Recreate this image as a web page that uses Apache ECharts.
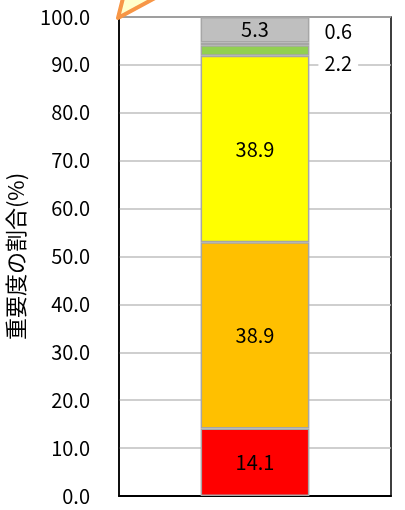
<!DOCTYPE html>
<html><head><meta charset="utf-8">
<script src="https://cdn.jsdelivr.net/npm/echarts@6/dist/echarts.min.js"></script>
<style>html,body{margin:0;padding:0;background:#fff;}#c{width:405px;height:510px;}</style>
</head><body><div id="c"></div>
<script>
const categories = [''];
const seriesNames = ['s1','s2','s3','s4','s5','s6'];
const seriesValues = [14.1, 38.9, 38.9, 2.2, 0.6, 5.3];
const seriesColors = ['#FF0000','#FFC000','#FFFF00','#92D050','#00B0F0','#BFBFBF'];
const yTicks = [0,10,20,30,40,50,60,70,80,90,100];
const yTitle = '重要度の割合(%)';
const FONT = '"Noto Sans CJK JP", sans-serif';

const chart = echarts.init(document.getElementById('c'));
const series = seriesValues.map((v, i) => {
  let label = {show: true, position: 'inside', color: '#000', fontSize: 20, fontFamily: FONT,
    formatter: p => p.value.toFixed(1)};
  if (i === 3) label = Object.assign({}, label, {position: 'right', distance: 9, offset: [0, 13],
    backgroundColor: '#fff', padding: [0, 6]});
  if (i === 4) label = Object.assign({}, label, {position: 'right', distance: 15, offset: [0, -12]});
  return {
    name: seriesNames[i], type: 'bar', stack: 'a', data: [v], barWidth: '40%',
    itemStyle: {color: seriesColors[i], borderColor: '#A6A6A6', borderWidth: 1.5},
    label: label, silent: true, z: 2
  };
});
chart.setOption({
  animation: false,
  grid: {left: 119, right: 14, top: 17, bottom: 14, show: true, borderColor: '#000', borderWidth: 1.5,
    backgroundColor: 'transparent', containLabel: false, outerBoundsMode: 'none'},
  xAxis: {type: 'category', data: categories, axisLabel: {show: false}, axisTick: {show: false},
    axisLine: {show: true, lineStyle: {color: '#000', width: 2}}},
  yAxis: {type: 'value', min: yTicks[0], max: yTicks[yTicks.length-1], interval: 10,
    axisLine: {show: true, lineStyle: {color: '#000', width: 1.5}}, axisTick: {show: false},
    splitLine: {lineStyle: {color: '#BFBFBF', width: 1.5}},
    axisLabel: {margin: 29, color: '#000', fontSize: 20, fontFamily: FONT, formatter: v => v.toFixed(1)},
    name: yTitle, nameLocation: 'middle', nameGap: 92, nameRotate: 90,
    nameTextStyle: {color: '#000', fontSize: 22, fontFamily: FONT}},
  series: series,
  graphic: [{type: 'polygon', shape: {points: [[118,18],[123,-2],[155,-2]]},
    style: {fill: '#FFFFCC', stroke: '#F79646', lineWidth: 4, lineJoin: 'round'}, z: 10}]
});
</script></body></html>
